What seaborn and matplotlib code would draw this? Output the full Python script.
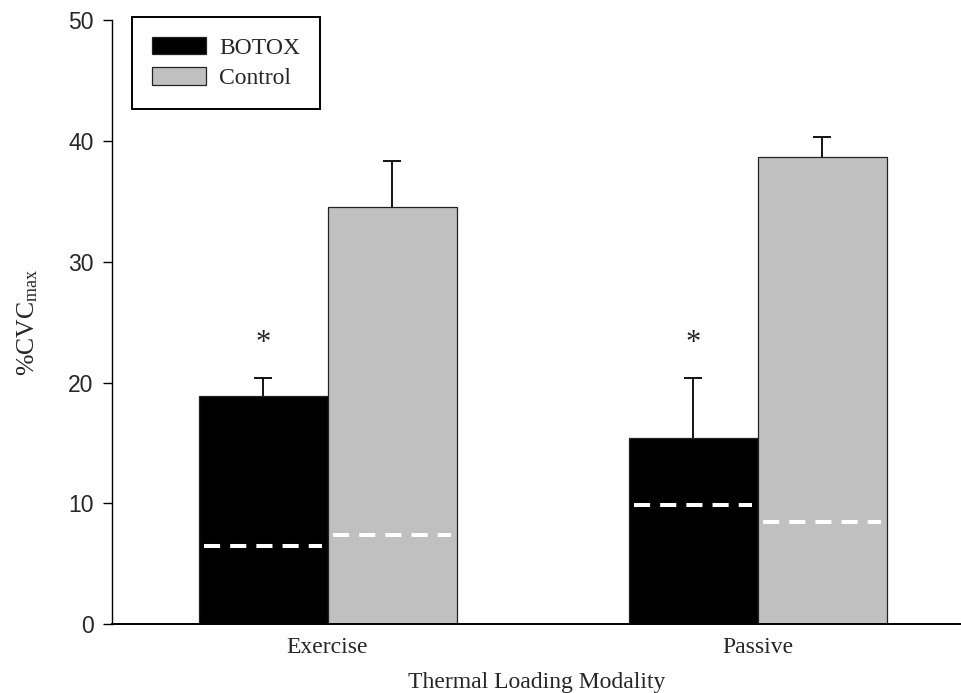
import matplotlib
matplotlib.use("Agg")
import matplotlib.pyplot as plt
from matplotlib.patches import Patch
import numpy as np
import pandas as pd
import seaborn as sns

# ---- data ----
modalities = ["Exercise", "Passive"]
groups = ["BOTOX", "Control"]
botox_mean = [18.9, 15.4]
control_mean = [34.5, 38.7]
botox_err = [1.5, 5.0]
control_err = [3.8, 1.6]
botox_baseline = [6.45, 9.9]
control_baseline = [7.35, 8.5]
significant = {"BOTOX": [True, True], "Control": [False, False]}
yticks = [0, 10, 20, 30, 40, 50]
colors = {"BOTOX": "#000000", "Control": "#c0c0c0"}

means = {"BOTOX": botox_mean, "Control": control_mean}
errs = {"BOTOX": botox_err, "Control": control_err}
baselines = {"BOTOX": botox_baseline, "Control": control_baseline}

rows = []
for g in groups:
    for i, m in enumerate(modalities):
        rows.append({"Modality": m, "Group": g, "value": means[g][i]})
df = pd.DataFrame(rows)

sns.set_style("ticks")
plt.rcParams["font.family"] = ["Liberation Serif", "DejaVu Serif"]
plt.rcParams["mathtext.fontset"] = "custom"
plt.rcParams["mathtext.rm"] = "Liberation Serif"
plt.rcParams["mathtext.it"] = "Liberation Serif:italic"

fig = plt.figure(figsize=(9.61, 6.93), dpi=100)
ax = fig.add_axes([0.1162, 0.0991, 0.8838, 0.872])

sns.barplot(data=df, x="Modality", y="value", hue="Group", order=modalities,
            hue_order=groups, palette=colors, width=0.6, errorbar=None,
            edgecolor="#222222", linewidth=0.9, legend=False, ax=ax, zorder=2)

for gi, g in enumerate(groups):
    cont = ax.containers[gi]
    for p in cont.patches:
        x0 = p.get_x()
        w = p.get_width()
        xc = x0 + w / 2
        ci = int(round(xc))
        m = means[g][ci]
        e = errs[g][ci]
        eb = ax.errorbar([xc], [m], yerr=[[0], [e]], fmt="none", ecolor="black",
                         elinewidth=1.3, capsize=6.4, capthick=1.3, zorder=1)
        caps = eb.lines[1]
        if len(caps) >= 2:
            caps[0].set_visible(False)
        ax.hlines(baselines[g][ci], x0 + 0.04 * w, x0 + 0.96 * w, colors="white",
                  linewidth=2.9, linestyles=(0, (4, 2.5)), zorder=3,
                  capstyle="butt")
        if significant[g][ci]:
            ax.annotate("*", xy=(xc, m + e), xytext=(0, 25), textcoords="offset points",
                        ha="center", va="center", fontsize=22,
                        family=["Liberation Serif"])

ax.set_ylim(0, 50)
ax.set_xlim(-0.502, 1.473)
ax.set_yticks(yticks)
ax.set_yticklabels([str(t) for t in yticks], family=["Liberation Sans"], fontsize=16.5)
ax.tick_params(axis="y", length=6.5, width=1.0, pad=6.5, direction="out", color="black")
ax.tick_params(axis="x", length=0, pad=9, labelsize=17)

for lab in ax.get_xticklabels():
    lab.set_family(["Liberation Serif"])

sns.despine(ax=ax)
ax.spines["left"].set_linewidth(1.0)
ax.spines["bottom"].set_linewidth(1.4)
ax.spines["left"].set_color("black")
ax.spines["bottom"].set_color("black")

ax.set_xlabel("Thermal Loading Modality", fontsize=17, labelpad=10)
ax.set_ylabel(r"%CVC$_{\mathrm{max}}$", fontsize=18.5, labelpad=20)

handles = [Patch(facecolor=colors[g], edgecolor="#222222", linewidth=0.9, label=g)
           for g in groups]
leg = ax.legend(handles=handles, loc="upper left",
                bbox_to_anchor=(131.7 / 961, 1 - 16.7 / 693),
                bbox_transform=fig.transFigure, borderaxespad=0,
                fontsize=17, frameon=True, fancybox=False, framealpha=1,
                edgecolor="black", handlelength=2.3, handleheight=0.76,
                handletextpad=0.56, borderpad=0.85, labelspacing=0.36)
leg.get_frame().set_linewidth(1.4)

fig.savefig("out.png", dpi=100)
